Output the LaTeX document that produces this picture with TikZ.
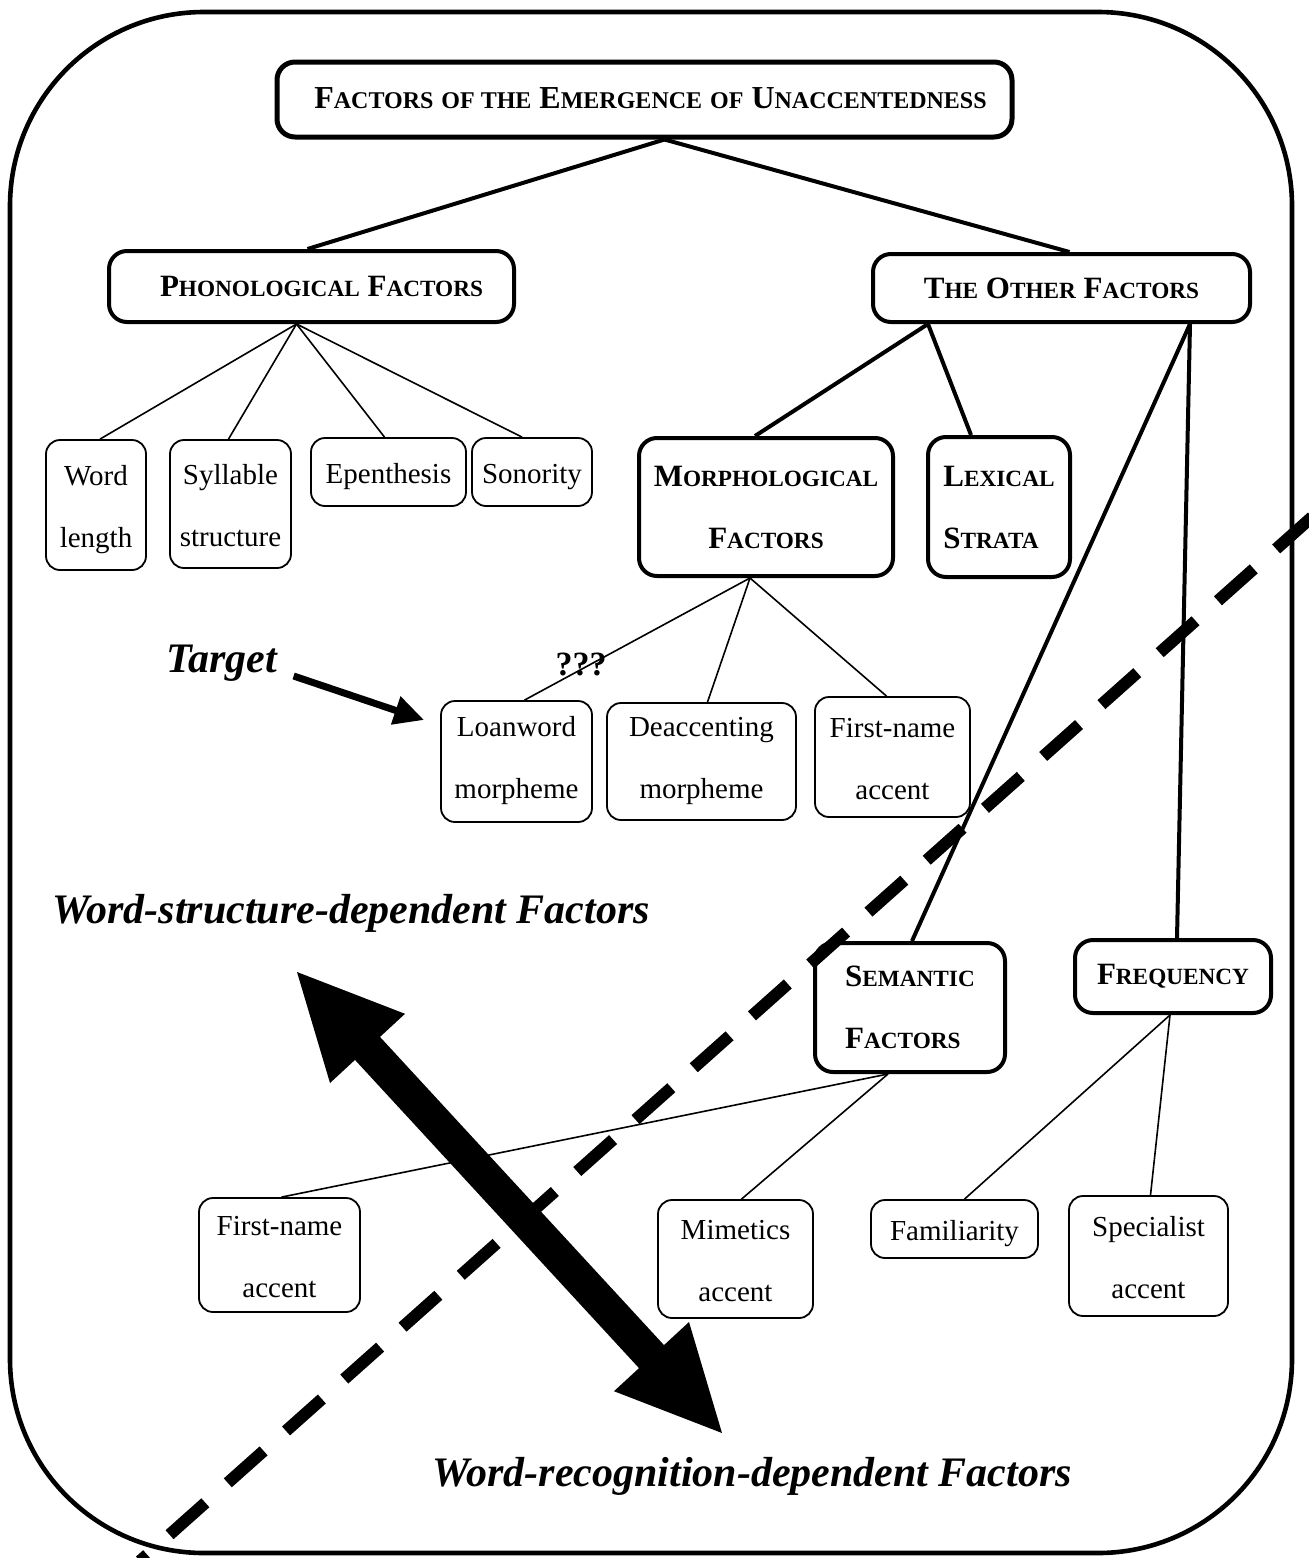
\documentclass[tikz,border=0pt]{standalone}
\usepackage{fontspec}
\setmainfont{Liberation Serif}
\usetikzlibrary{arrows.meta,calc}
\makeatletter
\newcommand\fsc[2]{#1{\fontsize{\fpeval{0.75*\f@size}}{\f@baselineskip}\selectfont\MakeUppercase{#2}}}
\makeatother
\newcommand\sx{\rule[-3.2pt]{0pt}{18.2pt}}
\newcommand\sy{\rule[-9.2pt]{0pt}{9.2pt}}
\begin{document}
\begin{tikzpicture}[x=0.5pt,y=-0.5pt,
  sz/.style 2 args={minimum width=#1*0.5pt, minimum height=#2*0.5pt},
  thinbox/.style={draw, line width=0.9pt, rounded corners=7pt, inner sep=0pt, align=center, font=\fontsize{14.5}{31}\selectfont},
  thickbox/.style={draw, line width=2pt, rounded corners=9pt, inner sep=0pt, align=center, font=\bfseries\fontsize{15.5}{31}\selectfont},
  thickline/.style={line width=2pt},
  thinline/.style={line width=0.8pt},
  bigital/.style={font=\bfseries\itshape\fontsize{21}{25}\selectfont, inner sep=0pt}]
\clip (0,0) rectangle (1309,1558);
\fill[white] (0,0) rectangle (1309,1558);
% outer frame
\draw[line width=2.3pt, rounded corners=97pt] (10,12) rectangle (1292,1553);

% nodes
\node[thickbox, line width=2.5pt, sz={735}{75}, font=\bfseries\fontsize{16}{31}\selectfont] (title) at (644.5,99.5)
  {\hspace*{6pt}\fsc{F}{actors} \fsc{}{of the} \fsc{E}{mergence} \fsc{}{of} \fsc{U}{naccentedness}\rule[-1pt]{0pt}{1pt}};
\node[thickbox, sz={405}{71}] (phon) at (311.5,286.5) {\hspace*{10pt}\fsc{P}{honological} \fsc{F}{actors}};
\node[thickbox, sz={377}{68}] (other) at (1061.5,288) {\fsc{T}{he} \fsc{O}{ther} \fsc{F}{actors}};
\node[thinbox, sz={100}{130}] (wl) at (96,505) {Word\sx\\length\sx};
\node[thinbox, sz={121}{128}] (syl) at (230.5,504) {Syllable\sx\\structure\sx};
\node[thinbox, sz={155}{68}] (epe) at (388.5,472) {Epenthesis\sx};
\node[thinbox, sz={120}{68}] (son) at (532,472) {Sonority\sx};
\node[thickbox, sz={254}{138}] (morph) at (766,507) {\fsc{M}{orphological}\\\fsc{F}{actors}};
\node[thickbox, sz={142}{140}, align=left] (lex) at (999,507) {\fsc{L}{exical}\\\fsc{S}{trata}};
\node[thinbox, sz={151}{121}] (loan) at (516.5,761.5) {Loanword\sx\\morpheme\sy};
\node[thinbox, sz={189}{117}] (deac) at (701.5,761.5) {Deaccenting\sx\\morpheme\sy};
\node[thinbox, sz={155}{120}] (fna) at (892.5,757) {First-name\sx\\accent\sx};
\node[thickbox, sz={190}{129}, align=left] (sem) at (910,1007.5) {\fsc{S}{emantic}\\\fsc{F}{actors}};
\node[thickbox, sz={196}{73}] (freq) at (1173,976.5) {\fsc{F}{requency}};
\node[thinbox, sz={161}{114}] (fnb) at (279.5,1255) {First-name\sx\\accent\sx};
\node[thinbox, sz={155}{118}] (mim) at (735.5,1259) {Mimetics\sx\\accent\sx};
\node[thinbox, sz={167}{58}] (fam) at (954.5,1229) {Familiarity\sx};
\node[thinbox, sz={159}{120}] (spec) at (1148.5,1256) {Specialist\sx\\accent\sx};

\node[bigital] (target) at (222,663) {Target};
\node[bigital] (ws) at (351,913) {Word-structure-dependent Factors};
\node[bigital] (wr) at (752,1476) {Word-recognition-dependent Factors};
\node[font=\bfseries\fontsize{17}{20}\selectfont, inner sep=0pt] (q) at (581,664) {???};

% connectors
\draw[thickline] ([xshift=10pt]title.south) -- ([xshift=-2pt]phon.north);
\draw[thickline] ([xshift=10pt]title.south) -- ([xshift=4pt]other.north);
\draw[thinline] ([xshift=-7.5pt]phon.south) -- ([xshift=2pt]wl.north);
\draw[thinline] ([xshift=-7.5pt]phon.south) -- ([xshift=-1pt]syl.north);
\draw[thinline] ([xshift=-7.5pt]phon.south) -- ([xshift=-2pt]epe.north);
\draw[thinline] ([xshift=-7.5pt]phon.south) -- ([xshift=-5pt]son.north);
\draw[thickline] ([xshift=-66.75pt]other.south) -- ([xshift=-5.5pt]morph.north);
\draw[thickline] ([xshift=-66.75pt]other.south) -- ([xshift=-14pt]lex.north);
\draw[thickline] ([xshift=64.25pt]other.south) -- ([xshift=1pt]sem.north);
\draw[thickline] ([xshift=64.25pt]other.south) -- ([xshift=2pt]freq.north);
\draw[thinline] ([xshift=-8pt]morph.south) -- ([xshift=4pt]loan.north);
\draw[thinline] ([xshift=-8pt]morph.south) -- ([xshift=3pt]deac.north);
\draw[thinline] ([xshift=-8pt]morph.south) -- ([xshift=-3pt]fna.north);
\draw[thinline] ([xshift=-11pt]sem.south) -- ([xshift=1pt]fnb.north);
\draw[thinline] ([xshift=-11pt]sem.south) -- ([xshift=3pt]mim.north);
\draw[thinline] ([xshift=-1.5pt]freq.south) -- ([xshift=5pt]fam.north);
\draw[thinline] ([xshift=-1.5pt]freq.south) -- ([xshift=1pt]spec.north);

% target arrow
\draw[line width=3.5pt, -{Triangle[length=15pt,width=14pt]}]
  ([xshift=8pt,yshift=-6.5pt]target.east) -- ([xshift=-8pt,yshift=20.75pt]loan.west);

% dashed divider
\draw[line width=6pt, dash pattern=on 24pt off 15pt] (1312,517) -- (140,1561);

% big double arrow
\fill (297,972) -- (405,1013.8) -- (380,1036.9) -- (664,1345.1) -- (689,1322) -- (722,1433)
  -- (614,1391.2) -- (639,1368.1) -- (355,1059.9) -- (330,1083) -- cycle;
\end{tikzpicture}
\end{document}
